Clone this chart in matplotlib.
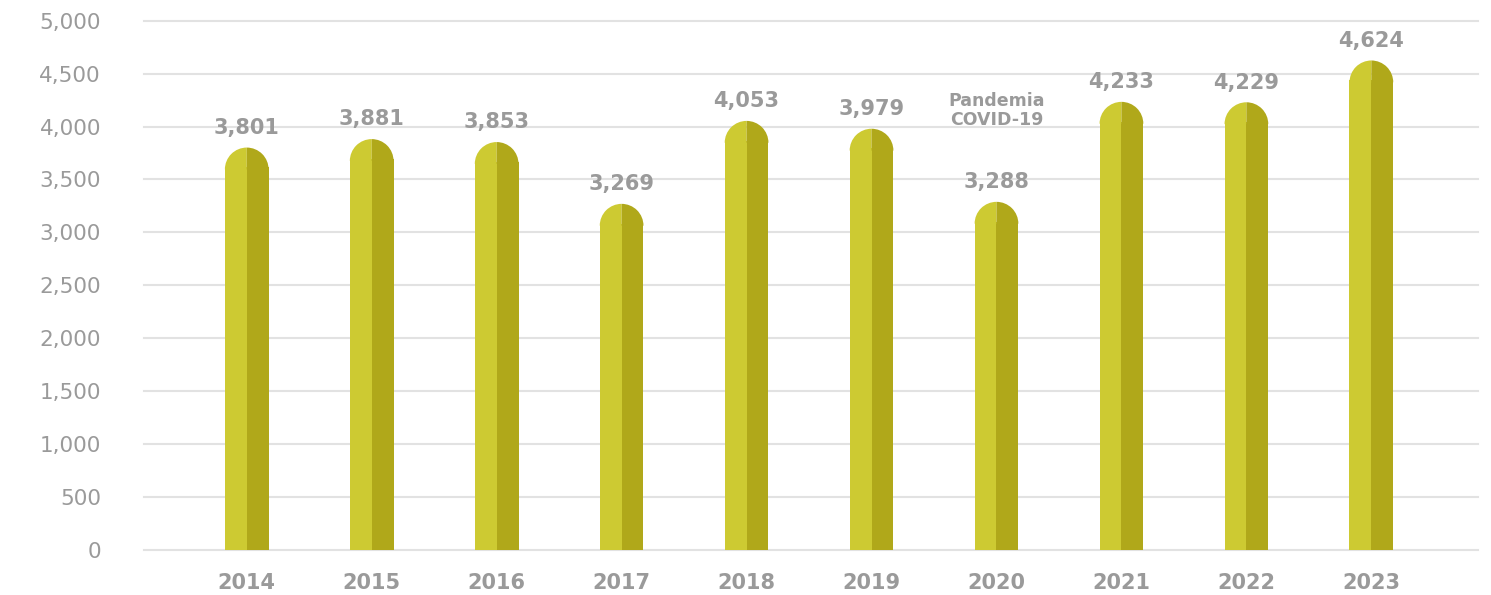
import matplotlib.pyplot as plt
from matplotlib.patches import Wedge
from matplotlib.transforms import Affine2D

years = ["2014", "2015", "2016", "2017", "2018", "2019", "2020", "2021", "2022", "2023"]
values = [3801, 3881, 3853, 3269, 4053, 3979, 3288, 4233, 4229, 4624]
y_ticks = [0, 500, 1000, 1500, 2000, 2500, 3000, 3500, 4000, 4500, 5000]
note_text = "Pandemia\nCOVID-19"
note_year = "2020"

light = "#cdca32"
dark = "#b0a81a"
gray = "#9a9a9a"
grid_gray = "#e2e2e2"

plt.rcParams['font.family'] = ['DejaVu Sans']

fig = plt.figure(figsize=(14.91, 5.95), dpi=100)
ax = fig.add_axes([0.0966, 0.0761, 0.8944, 0.8891])
ax.set_xlim(-0.822, 9.85)
ax.set_ylim(0, 5000)

width = 0.35
fig.canvas.draw()
# cap radius: half the bar width in pixels, converted to y data units
px_x = ax.transData.transform((width / 2, 0))[0] - ax.transData.transform((0, 0))[0]
px_per_y = ax.transData.transform((0, 1000))[1] - ax.transData.transform((0, 0))[1]
ry = px_x / px_per_y * 1000

xs = list(range(len(years)))
# bodies reach a little into the cap so no seam shows
body = [v - ry * 0.9 for v in values]
ax.bar([x - width / 4 for x in xs], body, width=width / 2, color=light, zorder=3, lw=0)
ax.bar([x + width / 4 for x in xs], body, width=width / 2, color=dark, zorder=3, lw=0)

for x, v in zip(xs, values):
    tr = Affine2D().scale(width / 2, ry).translate(x, v - ry) + ax.transData
    ax.add_patch(Wedge((0, 0), 1, 90, 180, color=light, transform=tr, zorder=3, lw=0))
    ax.add_patch(Wedge((0, 0), 1, 0, 90, color=dark, transform=tr, zorder=3, lw=0))
    ax.annotate(f"{v:,}", (x, v), xytext=(0, 7), textcoords="offset points",
                ha="center", va="bottom", fontsize=15, fontweight="bold", color=gray)

ax.text(years.index(note_year), 4150, note_text, ha="center", va="center",
        fontsize=12.5, fontweight="bold", color=gray, linespacing=1.1)

ax.set_yticks(y_ticks)
ax.set_yticklabels([f"{t:,}" for t in y_ticks])
ax.set_xticks(xs)
ax.set_xticklabels(years, fontweight="bold")
ax.tick_params(axis="y", length=0, pad=31, labelsize=15.5, labelcolor=gray)
ax.tick_params(axis="x", length=0, pad=17, labelsize=15, labelcolor=gray)

ax.grid(axis="y", color=grid_gray, linewidth=1.5, zorder=0)
for line in ax.get_ygridlines():
    line.set_clip_on(False)
ax.set_axisbelow(True)
for s in ax.spines.values():
    s.set_visible(False)

fig.savefig("out.png", dpi=100)
